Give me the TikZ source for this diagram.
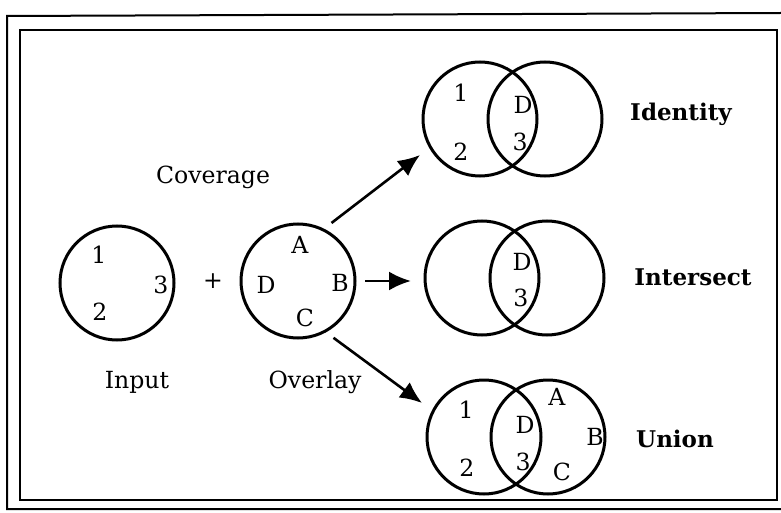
\documentclass[tikz,border=0pt]{standalone}
\usepackage{fontspec}
\setmainfont{DejaVu Serif}
\usetikzlibrary{arrows.meta}

\tikzset{
  ring/.style={circle, draw, line width=1.5pt, minimum size=57pt, inner sep=0pt},
  lbl/.style={font=\fontsize{11.8}{14}\selectfont, inner sep=0pt},
  title/.style={font=\fontsize{11.5}{13}\selectfont\bfseries, inner sep=0pt},
  arr/.style={-{Latex[length=11pt,width=9.5pt]}, line width=1.3pt},
}

\begin{document}
\begin{tikzpicture}[x=0.5pt,y=-0.5pt]
  \useasboundingbox (0,0) rectangle (781,513);

  % Draw the frames
  \draw[line width=1pt] (781,13) -- (7,16) -- (7,509) -- (781,509);
  \draw[line width=1pt] (20,30) rectangle (777,500);

  % Draw the input layer
  \node[ring] (input) at (117,283) {};
  \node[lbl] (in1) at (99,255) {1};
  \node[lbl] (in3) at (161,285) {3};
  \node[lbl] (in2) at (100,312) {2};
  \node[lbl] (inName) at (137,382) {Input};

  \node[lbl] (plus) at (213,281) {+};
  \node[lbl] (coverage) at (213,177) {Coverage};

  % Draw the overlay layer
  \node[ring, outer sep=5pt] (overlay) at (298,281) {};
  \node[lbl] (ovA) at (300,245) {A};
  \node[lbl] (ovD) at (266,285) {D};
  \node[lbl] (ovB) at (340,283) {B};
  \node[lbl] (ovC) at (305,318) {C};
  \node[lbl] (ovName) at (315,382) {Overlay};

  % Identity result
  \node[ring] (idL) at (480,119) {};
  \node[ring] (idR) at (545,119) {};
  \node[lbl] (id1) at (461,93) {1};
  \node[lbl] (id2) at (461,152) {2};
  \node[lbl] (idD) at (523,105) {D};
  \node[lbl] (id3) at (520,142) {3};
  \node[title] (idName) at (681,114) {Identity};

  % Intersect result
  \node[ring] (isL) at (482,278) {};
  \node[ring] (isR) at (547,278) {};
  \node[lbl] (isD) at (522,262) {D};
  \node[lbl] (is3) at (521,298) {3};
  \node[title] (isName) at (693,277) {Intersect};

  % Union result
  \node[ring] (unL) at (484,437) {};
  \node[ring] (unR) at (548,437) {};
  \node[lbl] (un1) at (466,410) {1};
  \node[lbl] (un2) at (467,468) {2};
  \node[lbl] (unD) at (525,425) {D};
  \node[lbl] (un3) at (523,462) {3};
  \node[lbl] (unA) at (557,397) {A};
  \node[lbl] (unB) at (595,437) {B};
  \node[lbl] (unC) at (562,472) {C};
  \node[title] (unName) at (675,439) {Union};

  % Draw the arrows
  \coordinate (toId) at (420,155);
  \coordinate (toIs) at (411,281);
  \coordinate (toUn) at (422,403);
  \draw[arr] (overlay.60) -- (toId);
  \draw[arr] (overlay.0) -- (toIs);
  \draw[arr] (overlay.-58) -- (toUn);

\end{tikzpicture}
\end{document}
